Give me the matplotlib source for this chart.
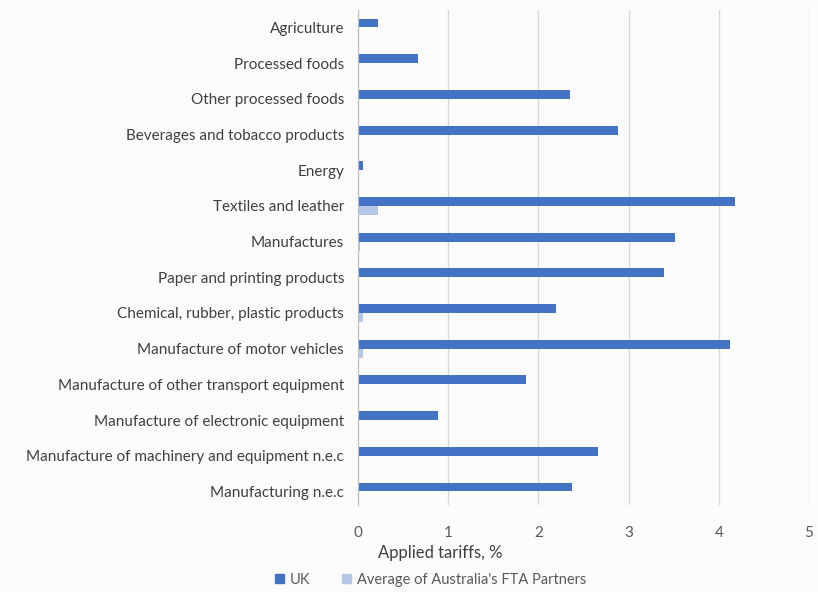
import matplotlib
matplotlib.use("Agg")
import matplotlib.pyplot as plt
import numpy as np
from matplotlib.patches import Patch

plt.rcParams['font.family'] = ['Lato', 'DejaVu Sans']

sektoriai = ['Agriculture', 'Processed foods', 'Other processed foods',
             'Beverages and tobacco products', 'Energy', 'Textiles and leather',
             'Manufactures', 'Paper and printing products',
             'Chemical, rubber, plastic products', 'Manufacture of motor vehicles',
             'Manufacture of other transport equipment',
             'Manufacture of electronic equipment',
             'Manufacture of machinery and equipment n.e.c',
             'Manufacturing n.e.c']
uk = [0.22, 0.67, 2.35, 2.88, 0.06, 4.18, 3.51, 3.39, 2.19, 4.12, 1.86, 0.89, 2.66, 2.37]
fta = [0.0, 0.0, 0.0, 0.0, 0.0, 0.22, 0.02, 0.0, 0.05, 0.05, 0.0, 0.0, 0.0, 0.0]
x_ticks = [0, 1, 2, 3, 4, 5]

fig = plt.figure(figsize=(8.18, 5.92), dpi=100)
fig.patch.set_facecolor('#fbfbfb')
ax = fig.add_axes([358/818, 1-505/592, 451/818, 495/592])
ax.set_facecolor('#fbfbfb')

y = np.arange(len(sektoriai))
h = 0.25
ax.barh(y - h/2, uk, height=h, color='#4472C4', zorder=3)
ax.barh(y + h/2, fta, height=h, color='#B4C7E7', zorder=3)

ax.set_ylim(13.38, -0.49)
ax.set_xlim(0, 5)
ax.set_xticks(x_ticks)
ax.set_xticklabels([str(t) for t in x_ticks], color='#595959', fontsize=11)
ax.set_yticks(y)
ax.set_yticklabels(sektoriai, color='#404040', fontsize=11)
ax.tick_params(axis='both', length=0)
ax.tick_params(axis='x', pad=15)
ax.tick_params(axis='y', pad=10)

ax.grid(axis='x', color='#d9d9d9', linewidth=1, zorder=0)
for s in ['top', 'right', 'bottom']:
    ax.spines[s].set_visible(False)
ax.spines['left'].set_color('#bfbfbf')
ax.spines['left'].set_zorder(4)

fig.text(440/818, 1-553/592, 'Applied tariffs, %', ha='center', va='center',
         fontsize=12, color='#404040')

rankenos = [Patch(color='#4472C4', label='UK'),
            Patch(color='#B4C7E7', label="Average of Australia's FTA Partners")]
fig.legend(handles=rankenos, loc='center left', bbox_to_anchor=(262/818, 1-580/592),
           ncol=2, frameon=False, fontsize=10.5, handlelength=0.6, handleheight=0.6,
           handletextpad=0.4, columnspacing=2.2, labelcolor='#595959')

fig.savefig('out.png', dpi=100, facecolor=fig.get_facecolor())
